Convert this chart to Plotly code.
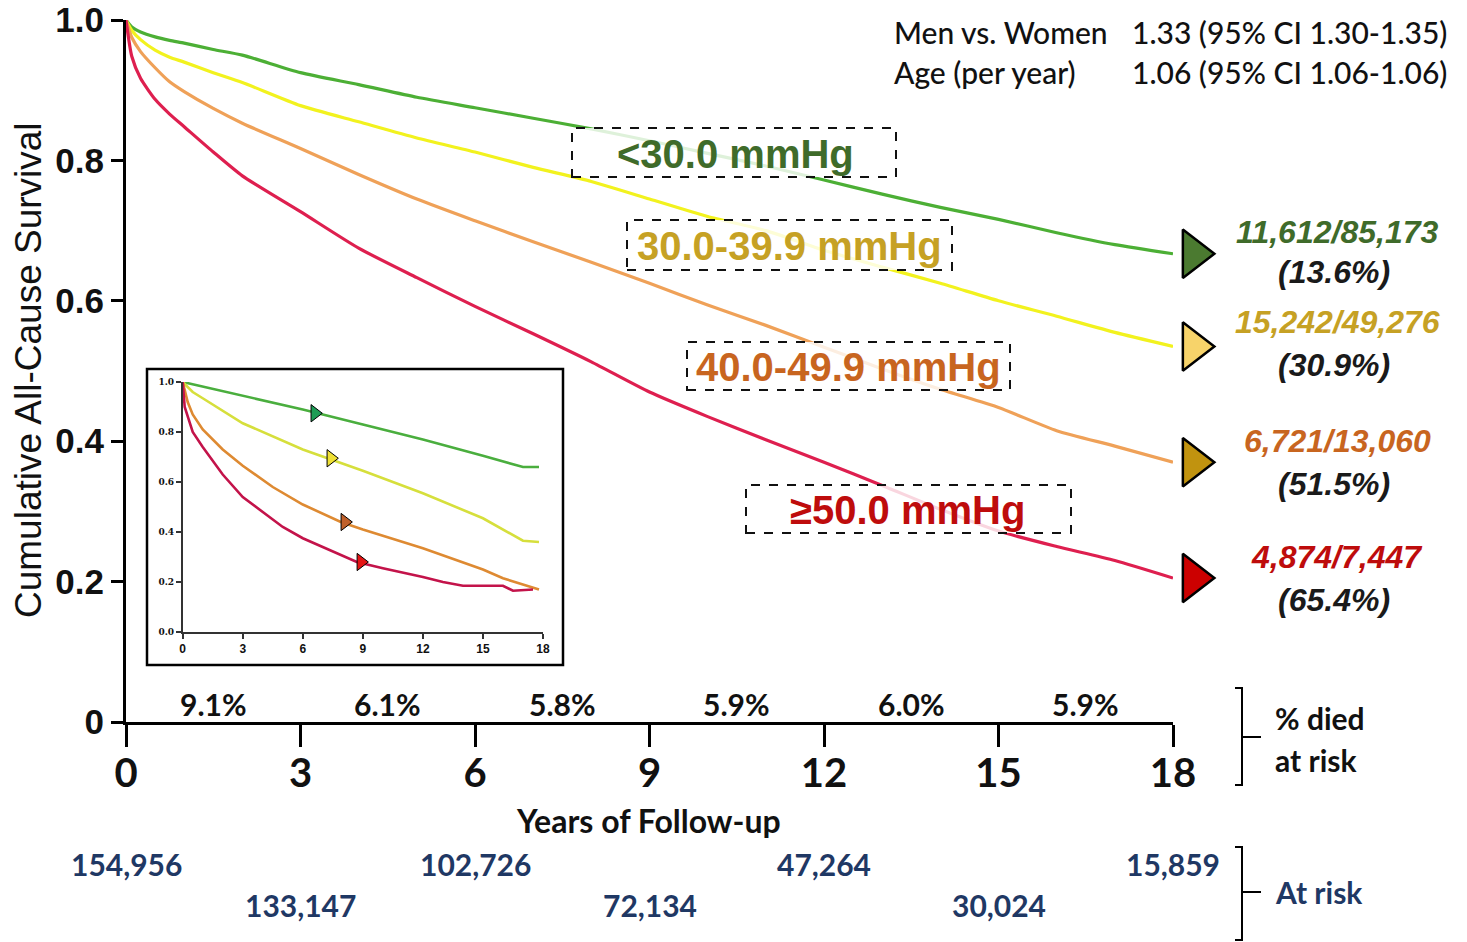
import plotly.graph_objects as go

W, H = 1467, 942

# ---------------- data ----------------
years = [0, 0.1, 0.25, 0.5, 0.75, 1, 1.5, 2, 3, 4, 5, 6, 7, 8, 9, 10, 11, 12, 13, 14, 15, 16, 17, 18]
surv_lt30 = [1.0, 0.99, 0.983, 0.976, 0.971, 0.967, 0.958, 0.95, 0.925, 0.908, 0.89, 0.875, 0.86, 0.845,
             0.828, 0.81, 0.792, 0.772, 0.752, 0.733, 0.716, 0.697, 0.68, 0.667]
surv_30_39 = [1.0, 0.985, 0.972, 0.957, 0.947, 0.94, 0.925, 0.911, 0.878, 0.855, 0.832, 0.812, 0.79, 0.77,
              0.745, 0.72, 0.7, 0.672, 0.648, 0.625, 0.6, 0.578, 0.555, 0.535]
surv_40_49 = [1.0, 0.975, 0.955, 0.932, 0.912, 0.898, 0.874, 0.853, 0.817, 0.78, 0.745, 0.714, 0.684, 0.655,
              0.625, 0.594, 0.565, 0.534, 0.503, 0.474, 0.448, 0.415, 0.393, 0.37]
surv_ge50 = [1.0, 0.948, 0.917, 0.887, 0.866, 0.848, 0.812, 0.778, 0.727, 0.675, 0.633, 0.592, 0.553, 0.513,
             0.47, 0.435, 0.402, 0.37, 0.337, 0.303, 0.272, 0.25, 0.23, 0.205]

group_labels = ["<30.0 mmHg", "30.0-39.9 mmHg", "40.0-49.9 mmHg", "≥50.0 mmHg"]
events_text = ["11,612/85,173", "15,242/49,276", "6,721/13,060", "4,874/7,447"]
events_pct = ["(13.6%)", "(30.9%)", "(51.5%)", "(65.4%)"]
end_marker_year = 18.35

# inset data
inset_years_g = [0, 3, 6, 9, 12, 15, 17, 17.8]
inset_g = [1.0, 0.945, 0.89, 0.83, 0.77, 0.705, 0.66, 0.66]
inset_years_y = [0, 0.5, 1, 3, 6, 9, 12, 15, 17, 17.8]
inset_y = [1.0, 0.96, 0.935, 0.835, 0.73, 0.645, 0.555, 0.455, 0.365, 0.36]
inset_years_o = [0, 0.25, 0.5, 1, 2, 3, 4.5, 6, 7.9, 9, 12, 14, 15, 16, 17, 17.8]
inset_o = [1.0, 0.92, 0.87, 0.81, 0.73, 0.665, 0.58, 0.51, 0.44, 0.41, 0.335, 0.28, 0.25, 0.215, 0.19, 0.17]
inset_years_r = [0, 0.1, 0.5, 1, 2, 3, 5, 6, 8.7, 10, 12, 13, 14, 16, 16.5, 17.5]
inset_r = [1.0, 0.9, 0.8, 0.74, 0.63, 0.54, 0.42, 0.375, 0.28, 0.255, 0.22, 0.2, 0.185, 0.185, 0.165, 0.17]
inset_tri_x = [6.6, 7.4, 8.1, 8.9]
inset_tri_y = [0.875, 0.695, 0.44, 0.28]

interval_mid = [1.5, 4.5, 7.5, 10.5, 13.5, 16.5]
pct_died = ["9.1%", "6.1%", "5.8%", "5.9%", "6.0%", "5.9%"]
risk_years = [0, 3, 6, 9, 12, 15, 18]
at_risk = ["154,956", "133,147", "102,726", "72,134", "47,264", "30,024", "15,859"]

xticks = [0, 3, 6, 9, 12, 15, 18]
yticks = [0, 0.2, 0.4, 0.6, 0.8, 1.0]
yticktext = ["0", "0.2", "0.4", "0.6", "0.8", "1.0"]
inset_yticktext = ["0.0", "0.2", "0.4", "0.6", "0.8", "1.0"]

line_colors = ["#4caf35", "#f2f21e", "#efa158", "#de1f4f"]
label_colors = ["#3f6b2a", "#c6a124", "#c8651f", "#be0c0c"]
tri_colors = ["#4b7a30", "#f7d36a", "#c1930f", "#cc0000"]
inset_line_colors = ["#4aae3e", "#d6df3c", "#de8a32", "#c3134a"]
inset_tri_colors = ["#1d9c55", "#efe034", "#c0602a", "#e41414"]

series = [surv_lt30, surv_30_39, surv_40_49, surv_ge50]

# plot frame in pixels
X0P, X18P = 126, 1173
Y1P, Y0P = 20, 722
X3_RIGHT = 1240


def px(x):
    return x / W


def py(y):
    return 1 - y / H


fig = go.Figure()

for s, c in zip(series, line_colors):
    fig.add_trace(go.Scatter(x=years, y=s, mode="lines",
                             line=dict(color=c, width=3.2, shape="spline", smoothing=0.6),
                             showlegend=False, hoverinfo="skip", xaxis="x", yaxis="y"))

# end triangles on a wider, hidden x axis with identical scale
fig.add_trace(go.Scatter(x=[end_marker_year] * 4, y=[s[-1] for s in series], mode="markers",
                         marker=dict(symbol="triangle-right", size=42, color=tri_colors,
                                     line=dict(color="black", width=2.5)),
                         cliponaxis=False, showlegend=False, hoverinfo="skip", xaxis="x3", yaxis="y"))

# inset
for xs, ys, c in zip([inset_years_g, inset_years_y, inset_years_o, inset_years_r],
                     [inset_g, inset_y, inset_o, inset_r], inset_line_colors):
    fig.add_trace(go.Scatter(x=xs, y=ys, mode="lines", line=dict(color=c, width=2.6),
                             showlegend=False, hoverinfo="skip", xaxis="x2", yaxis="y2"))
fig.add_trace(go.Scatter(x=inset_tri_x, y=inset_tri_y, mode="markers",
                         marker=dict(symbol="triangle-right", size=15, color=inset_tri_colors,
                                     line=dict(color="black", width=1)),
                         showlegend=False, hoverinfo="skip", xaxis="x2", yaxis="y2"))

shapes = []
shapes.append(dict(type="rect", xref="paper", yref="paper", x0=px(147), x1=px(563), y0=py(665), y1=py(369),
                   line=dict(color="black", width=2.5), fillcolor="white", layer="below"))
boxes = [(572, 896, 128, 177), (627, 952, 220, 270), (687, 1010, 342, 390), (746, 1071, 485, 533)]
for (x0, x1, y0, y1) in boxes:
    shapes.append(dict(type="rect", xref="paper", yref="paper", x0=px(x0), x1=px(x1), y0=py(y1), y1=py(y0),
                       line=dict(color="#111111", width=2, dash="dash"),
                       fillcolor="rgba(255,255,255,0.82)", layer="above"))
for (yt, yb, ym) in [(688, 785, 737), (847, 940, 892)]:
    shapes.append(dict(type="path", xref="paper", yref="paper",
                       path=f"M {px(1235)},{py(yt)} L {px(1242)},{py(yt)} L {px(1242)},{py(yb)} L {px(1235)},{py(yb)}",
                       line=dict(color="black", width=2)))
    shapes.append(dict(type="line", xref="paper", yref="paper", x0=px(1242), x1=px(1261), y0=py(ym), y1=py(ym),
                       line=dict(color="black", width=2)))

annotations = []
box_centers = [(735, 154), (790, 246), (848, 367), (908, 510)]
for lab, (cx, cy), col in zip(group_labels, box_centers, label_colors):
    annotations.append(dict(text=lab, x=px(cx), y=py(cy), xref="paper", yref="paper",
                            xanchor="center", yanchor="middle", showarrow=False,
                            font=dict(family="Liberation Sans, Arial", size=40, color=col, weight="bold")))

end_y = [(232, 272), (322, 365), (441, 484), (557, 600)]
for t, p, (y1, y2), col in zip(events_text, events_pct, end_y, label_colors):
    annotations.append(dict(text=t, x=px(1337), y=py(y1), xref="paper", yref="paper",
                            xanchor="center", yanchor="middle", showarrow=False,
                            font=dict(family="Liberation Sans, Arial", size=32, color=col,
                                      weight="bold", style="italic")))
    annotations.append(dict(text=p, x=px(1334), y=py(y2), xref="paper", yref="paper",
                            xanchor="center", yanchor="middle", showarrow=False,
                            font=dict(family="Liberation Sans, Arial", size=32, color="#1a1a1a",
                                      weight="bold", style="italic")))

for xm, t in zip(interval_mid, pct_died):
    annotations.append(dict(text=t, x=xm, y=0.026, xref="x", yref="y", xanchor="center", yanchor="middle",
                            showarrow=False, font=dict(family="Lato", size=30, color="#111111", weight="bold")))

for i, (xr, t) in enumerate(zip(risk_years, at_risk)):
    ypix = 864 if i % 2 == 0 else 905
    annotations.append(dict(text=t, x=xr, y=py(ypix), xref="x", yref="paper", xanchor="center",
                            yanchor="middle", showarrow=False,
                            font=dict(family="Lato", size=30, color="#1f3864", weight="bold")))

annotations += [
    dict(text="% died", x=px(1273), y=py(718), xref="paper", yref="paper", xanchor="left", yanchor="middle",
         showarrow=False, font=dict(family="Lato", size=30, color="#111111", weight="bold")),
    dict(text="at risk", x=px(1273), y=py(760), xref="paper", yref="paper", xanchor="left", yanchor="middle",
         showarrow=False, font=dict(family="Lato", size=30, color="#111111", weight="bold")),
    dict(text="At risk", x=px(1273), y=py(892), xref="paper", yref="paper", xanchor="left", yanchor="middle",
         showarrow=False, font=dict(family="Lato", size=30, color="#1f3864", weight="bold")),
]

hr_font = dict(family="Lato", size=30, color="#111111", weight=500)
annotations += [
    dict(text="Men vs. Women", x=px(892), y=py(32), xref="paper", yref="paper", xanchor="left",
         yanchor="middle", showarrow=False, font=hr_font),
    dict(text="1.33 (95% CI 1.30-1.35)", x=px(1130), y=py(32), xref="paper", yref="paper", xanchor="left",
         yanchor="middle", showarrow=False, font=hr_font),
    dict(text="Age (per year)", x=px(892), y=py(72), xref="paper", yref="paper", xanchor="left",
         yanchor="middle", showarrow=False, font=hr_font),
    dict(text="1.06 (95% CI 1.06-1.06)", x=px(1130), y=py(72), xref="paper", yref="paper", xanchor="left",
         yanchor="middle", showarrow=False, font=hr_font),
]

annotations += [
    dict(text="Cumulative All-Cause Survival", x=px(28), y=py(370), xref="paper", yref="paper",
         xanchor="center", yanchor="middle", textangle=-90, showarrow=False,
         font=dict(family="Liberation Sans, Arial", size=37, color="#111111")),
    dict(text="Years of Follow-up", x=px(648), y=py(820), xref="paper", yref="paper",
         xanchor="center", yanchor="middle", showarrow=False,
         font=dict(family="Lato", size=32, color="#111111", weight="bold")),
]

x3_range_max = 18 * (X3_RIGHT - X0P) / (X18P - X0P)

fig.update_layout(
    width=W, height=H, margin=dict(l=0, r=0, t=0, b=0, autoexpand=False),
    paper_bgcolor="white", plot_bgcolor="rgba(0,0,0,0)",
    showlegend=False,
    xaxis=dict(domain=[px(X0P), px(X18P)], range=[0, 18], tickvals=xticks, ticks="outside", ticklen=22,
               tickwidth=3, tickcolor="black", showline=True, linewidth=3, linecolor="black",
               showgrid=False, zeroline=False, anchor="y", automargin=False, ticklabelstandoff=-8,
               tickfont=dict(family="Lato", size=40, color="#111111", weight="bold")),
    yaxis=dict(domain=[py(Y0P), py(Y1P)], range=[0, 1], tickvals=yticks, ticktext=yticktext,
               ticks="outside", ticklen=12, tickwidth=3, tickcolor="black", showline=True, linewidth=3,
               linecolor="black", showgrid=False, zeroline=False, anchor="x", automargin=False,
               tickfont=dict(family="Liberation Sans, Arial", size=35, color="#111111", weight="bold")),
    xaxis3=dict(domain=[px(X0P), px(X3_RIGHT)], range=[0, x3_range_max], visible=False,
                showgrid=False, zeroline=False, anchor="y", automargin=False),
    xaxis2=dict(domain=[px(182.7), px(543)], range=[0, 18], tickvals=xticks, ticks="outside", ticklen=5,
                tickwidth=1.5, tickcolor="#333", showline=True, linewidth=1.5, linecolor="#333",
                showgrid=False, zeroline=False, anchor="y2", automargin=False,
                tickfont=dict(family="Liberation Sans, Arial", size=12, color="#111111", weight="bold")),
    yaxis2=dict(domain=[py(632), py(382)], range=[0, 1], tickvals=yticks, ticktext=inset_yticktext,
                ticks="outside", ticklen=5, tickwidth=1.5, tickcolor="#333", showline=True, linewidth=1.5,
                linecolor="#333", showgrid=False, zeroline=False, anchor="x2", automargin=False,
                tickfont=dict(family="DejaVu Serif", size=9, color="#111111", weight="bold")),
    shapes=shapes,
    annotations=annotations,
)

fig.write_html("out.html")
